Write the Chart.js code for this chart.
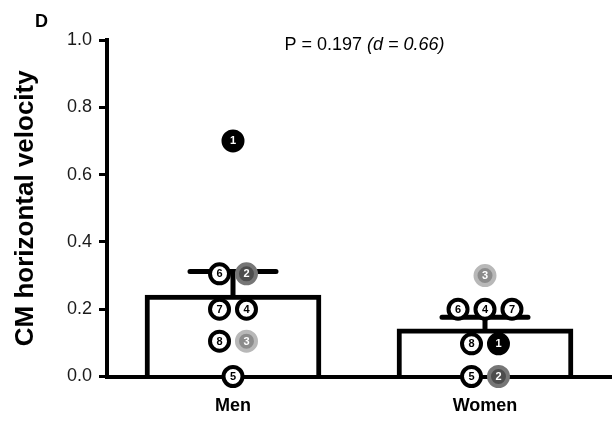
<!DOCTYPE html>
<html>
<head>
<meta charset="utf-8">
<script src="https://cdn.jsdelivr.net/npm/chart.js@4/dist/chart.umd.min.js"></script>
<style>
    html, body { margin: 0; padding: 0; background: #fff; }
    #wrap { width: 614px; height: 422px; }
</style>
</head>
<body>
<div id="wrap"><canvas id="velocityChart" width="614" height="422"></canvas></div>
<script>
// values
const groups = ["Men", "Women"];
const barMeans = [0.242, 0.142];
const barSem = [0.07, 0.034];

const menIds = [1, 6, 2, 7, 4, 8, 3, 5];
const menValues = [0.70, 0.305, 0.305, 0.20, 0.20, 0.105, 0.105, 0.0];
const womenIds = [3, 6, 4, 7, 8, 1, 5, 2];
const womenValues = [0.30, 0.20, 0.20, 0.20, 0.097, 0.097, 0.0, 0.0];

const yTicks = [0, 0.2, 0.4, 0.6, 0.8, 1.0];

// marker look per participant
const markerFill = { 1: "#000000", 2: "#4d4d4d", 3: "#8c8c8c" };
const markerRing = { 1: "#000000", 2: "#767676", 3: "#b8b8b8" };
const SPREAD = 0.107; // side-by-side gap for equal values, in x units

function swarm(groupX, ids, values) {
    // points sharing a value are placed side by side, in list order
    const rows = {};
    values.forEach((v, i) => {
        const key = v.toFixed(3);
        (rows[key] = rows[key] || []).push(i);
    });
    const pts = [];
    Object.values(rows).forEach(row => {
        row.forEach((idx, k) => {
            pts.push({ x: groupX + (k - (row.length - 1) / 2) * SPREAD, y: values[idx], id: ids[idx] });
        });
    });
    return pts;
}

const menPoints = swarm(1, menIds, menValues);
const womenPoints = swarm(2, womenIds, womenValues);

function pointStyleSet(points) {
    return {
        type: "scatter",
        data: points,
        order: 1,
        clip: false,
        pointRadius: 9.5,
        pointHoverRadius: 9.5,
        pointBorderWidth: 4,
        pointBackgroundColor: points.map(p => markerFill[p.id] || "#ffffff"),
        pointBorderColor: points.map(p => markerRing[p.id] || "#000000")
    };
}

const errorBars = {
    id: "errorBars",
    afterDatasetDraw(chart, args) {
        if (args.index !== 0) return;
        const ctx = chart.ctx;
        const y = chart.scales.y;
        ctx.save();
        ctx.strokeStyle = "#000";
        ctx.lineWidth = 5;
        ctx.lineCap = "round";
        args.meta.data.forEach((bar, i) => {
            const top = y.getPixelForValue(barMeans[i] + barSem[i]);
            ctx.beginPath();
            ctx.moveTo(bar.x, bar.y);
            ctx.lineTo(bar.x, top);
            ctx.moveTo(bar.x - 43, top);
            ctx.lineTo(bar.x + 43, top);
            ctx.stroke();
        });
        ctx.restore();
    }
};

const pointNumbers = {
    id: "pointNumbers",
    afterDatasetsDraw(chart) {
        const ctx = chart.ctx;
        ctx.save();
        ctx.font = "bold 11px Arial, 'Liberation Sans', sans-serif";
        ctx.textAlign = "center";
        ctx.textBaseline = "middle";
        [1, 2].forEach(di => {
            const meta = chart.getDatasetMeta(di);
            const data = chart.data.datasets[di].data;
            meta.data.forEach((el, i) => {
                const id = data[i].id;
                ctx.fillStyle = markerFill[id] ? "#ffffff" : "#000000";
                ctx.fillText(String(id), el.x, el.y + 0.5);
            });
        });
        ctx.restore();
    }
};

const pLabel = {
    id: "pLabel",
    afterDraw(chart) {
        const ctx = chart.ctx;
        ctx.save();
        ctx.fillStyle = "#000";
        ctx.textBaseline = "middle";
        ctx.font = "bold 18px Arial, 'Liberation Sans', sans-serif";
        ctx.fillText("D", 35, 22);
        const part1 = "P = 0.197 ";
        const part2 = "(d = 0.66)";
        ctx.font = "18px Arial, 'Liberation Sans', sans-serif";
        const w1 = ctx.measureText(part1).width;
        ctx.font = "italic 18px Arial, 'Liberation Sans', sans-serif";
        const w2 = ctx.measureText(part2).width;
        let x = 364.5 - (w1 + w2) / 2;
        ctx.font = "18px Arial, 'Liberation Sans', sans-serif";
        ctx.fillText(part1, x, 45);
        ctx.font = "italic 18px Arial, 'Liberation Sans', sans-serif";
        ctx.fillText(part2, x + w1, 45);
        ctx.restore();
    }
};

const ctx = document.getElementById("velocityChart").getContext("2d");
new Chart(ctx, {
    type: "bar",
    data: {
        datasets: [
            {
                type: "bar",
                data: barMeans.map((m, i) => ({ x: i + 1, y: m })),
                order: 2,
                backgroundColor: "#ffffff",
                borderColor: "#000000",
                borderWidth: 5,
                borderSkipped: "bottom",
                barThickness: 176
            },
            pointStyleSet(menPoints),
            pointStyleSet(womenPoints)
        ]
    },
    options: {
        responsive: false,
        animation: false,
        layout: { autoPadding: false, padding: { left: 2, right: 3, top: 40, bottom: 0 } },
        plugins: {
            legend: { display: false },
            tooltip: { enabled: false }
        },
        scales: {
            x: {
                type: "linear",
                min: 0.5,
                max: 2.5,
                offset: false,
                grid: { display: false, drawTicks: false },
                border: { display: true, color: "#000", width: 4 },
                afterBuildTicks: scale => { scale.ticks = groups.map((g, i) => ({ value: i + 1 })); },
                afterFit: scale => {
                    scale.height = 45.5;
                    scale.paddingLeft = 0;
                    scale.paddingRight = 0;
                },
                ticks: {
                    padding: 19,
                    color: "#000",
                    font: { family: "Arial, 'Liberation Sans', sans-serif", size: 18, weight: "bold" },
                    callback: v => groups[v - 1]
                }
            },
            y: {
                min: 0,
                max: 1,
                afterBuildTicks: scale => { scale.ticks = yTicks.map(v => ({ value: v })); },
                afterFit: scale => { scale.width = 105; },
                grid: { drawOnChartArea: false, color: "#000", lineWidth: 3, tickLength: 8 },
                border: { display: true, color: "#000", width: 4 },
                ticks: {
                    padding: 7,
                    color: "#1a1a1a",
                    font: { family: "Arial, 'Liberation Sans', sans-serif", size: 18 },
                    callback: v => v.toFixed(1)
                },
                title: {
                    display: true,
                    text: "CM horizontal velocity",
                    color: "#000",
                    padding: { top: 8, bottom: 4 },
                    font: { family: "Arial, 'Liberation Sans', sans-serif", size: 26, weight: "bold" }
                }
            }
        }
    },
    plugins: [errorBars, pointNumbers, pLabel]
});
</script>
</body>
</html>
